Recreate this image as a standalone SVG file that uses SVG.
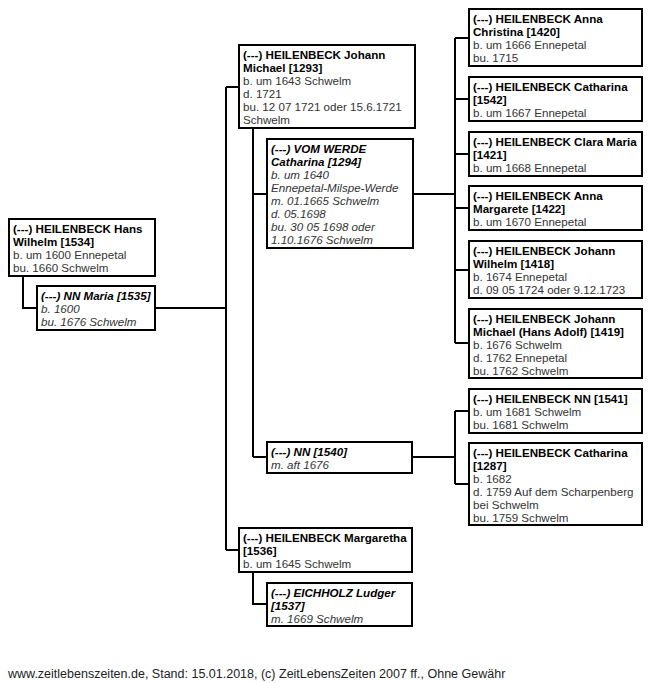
<svg xmlns="http://www.w3.org/2000/svg" width="650" height="683" viewBox="0 0 650 683">
<style>
rect.box{fill:#fff;stroke:#000;stroke-width:2}
text{font-family:"Liberation Sans",Arial,sans-serif;font-size:11.6px;fill:#333}
.b{font-weight:bold;fill:#000}
.i{font-style:italic}
#connectors path{fill:none;stroke:#000;stroke-width:2}
</style>
<rect width="650" height="683" fill="#fff"/>
<g id="connectors">
<path d="M23 276V308H37"/>
<path d="M155 308H226"/>
<path d="M226 87V550"/>
<path d="M226 87H239M226 550H239"/>
<path d="M253 129V457M253 194H267M253 457H267"/>
<path d="M413 194H455"/>
<path d="M455 38V343"/>
<path d="M455 38H469M455 99H469M455 154H469M455 208H469M455 270H469M455 343H469"/>
<path d="M412 457H455M455 411V484M455 411H469M455 484H469"/>
<path d="M253 572V604H267"/>
</g>
<g id="p1534">
<rect class="box" x="9" y="219" width="146" height="57"/>
<text x="13" y="233"><tspan class="b">(---) HEILENBECK Hans</tspan><tspan class="b" x="13" dy="13">Wilhelm [1534]</tspan><tspan x="13" dy="13">b. um 1600 Ennepetal</tspan><tspan x="13" dy="13">bu. 1660 Schwelm</tspan></text>
</g>
<g id="p1535">
<rect class="box" x="37" y="286" width="118" height="44"/>
<text x="41" y="300" class="i"><tspan class="b">(---) NN Maria [1535]</tspan><tspan x="41" dy="13">b. 1600</tspan><tspan x="41" dy="13">bu. 1676 Schwelm</tspan></text>
</g>
<g id="p1293">
<rect class="box" x="239" y="45" width="176" height="83"/>
<text x="243" y="59"><tspan class="b">(---) HEILENBECK Johann</tspan><tspan class="b" x="243" dy="13">Michael [1293]</tspan><tspan x="243" dy="13">b. um 1643 Schwelm</tspan><tspan x="243" dy="13">d. 1721</tspan><tspan x="243" dy="13">bu. 12 07 1721 oder 15.6.1721</tspan><tspan x="243" dy="13">Schwelm</tspan></text>
</g>
<g id="p1294">
<rect class="box" x="267" y="139" width="146" height="109"/>
<text x="271" y="153" class="i"><tspan class="b">(---) VOM WERDE</tspan><tspan class="b" x="271" dy="13">Catharina [1294]</tspan><tspan x="271" dy="13">b. um 1640</tspan><tspan x="271" dy="13">Ennepetal-Milspe-Werde</tspan><tspan x="271" dy="13">m. 01.1665 Schwelm</tspan><tspan x="271" dy="13">d. 05.1698</tspan><tspan x="271" dy="13">bu. 30 05 1698 oder</tspan><tspan x="271" dy="13">1.10.1676 Schwelm</tspan></text>
</g>
<g id="p1540">
<rect class="box" x="267" y="442" width="145" height="31"/>
<text x="271" y="456" class="i"><tspan class="b">(---) NN [1540]</tspan><tspan x="271" dy="13">m. aft 1676</tspan></text>
</g>
<g id="p1536">
<rect class="box" x="239" y="528" width="173" height="44"/>
<text x="243" y="542"><tspan class="b">(---) HEILENBECK Margaretha</tspan><tspan class="b" x="243" dy="13">[1536]</tspan><tspan x="243" dy="13">b. um 1645 Schwelm</tspan></text>
</g>
<g id="p1537">
<rect class="box" x="267" y="583" width="145" height="43"/>
<text x="271" y="597" class="i"><tspan class="b">(---) EICHHOLZ Ludger</tspan><tspan class="b" x="271" dy="13">[1537]</tspan><tspan x="271" dy="13">m. 1669 Schwelm</tspan></text>
</g>
<g id="p1420">
<rect class="box" x="469" y="9" width="173" height="57"/>
<text x="473" y="23"><tspan class="b">(---) HEILENBECK Anna</tspan><tspan class="b" x="473" dy="13">Christina [1420]</tspan><tspan x="473" dy="13">b. um 1666 Ennepetal</tspan><tspan x="473" dy="13">bu. 1715</tspan></text>
</g>
<g id="p1542">
<rect class="box" x="469" y="77" width="173" height="44"/>
<text x="473" y="91"><tspan class="b">(---) HEILENBECK Catharina</tspan><tspan class="b" x="473" dy="13">[1542]</tspan><tspan x="473" dy="13">b. um 1667 Ennepetal</tspan></text>
</g>
<g id="p1421">
<rect class="box" x="469" y="132" width="173" height="44"/>
<text x="473" y="146"><tspan class="b">(---) HEILENBECK Clara Maria</tspan><tspan class="b" x="473" dy="13">[1421]</tspan><tspan x="473" dy="13">b. um 1668 Ennepetal</tspan></text>
</g>
<g id="p1422">
<rect class="box" x="469" y="186" width="173" height="44"/>
<text x="473" y="200"><tspan class="b">(---) HEILENBECK Anna</tspan><tspan class="b" x="473" dy="13">Margarete [1422]</tspan><tspan x="473" dy="13">b. um 1670 Ennepetal</tspan></text>
</g>
<g id="p1418">
<rect class="box" x="469" y="241" width="173" height="57"/>
<text x="473" y="255"><tspan class="b">(---) HEILENBECK Johann</tspan><tspan class="b" x="473" dy="13">Wilhelm [1418]</tspan><tspan x="473" dy="13">b. 1674 Ennepetal</tspan><tspan x="473" dy="13">d. 09 05 1724 oder 9.12.1723</tspan></text>
</g>
<g id="p1419">
<rect class="box" x="469" y="309" width="173" height="69"/>
<text x="473" y="323"><tspan class="b">(---) HEILENBECK Johann</tspan><tspan class="b" x="473" dy="13">Michael (Hans Adolf) [1419]</tspan><tspan x="473" dy="13">b. 1676 Schwelm</tspan><tspan x="473" dy="13">d. 1762 Ennepetal</tspan><tspan x="473" dy="13">bu. 1762 Schwelm</tspan></text>
</g>
<g id="p1541">
<rect class="box" x="469" y="389" width="173" height="44"/>
<text x="473" y="403"><tspan class="b">(---) HEILENBECK NN [1541]</tspan><tspan x="473" dy="13">b. um 1681 Schwelm</tspan><tspan x="473" dy="13">bu. 1681 Schwelm</tspan></text>
</g>
<g id="p1287">
<rect class="box" x="469" y="443" width="173" height="82"/>
<text x="473" y="457"><tspan class="b">(---) HEILENBECK Catharina</tspan><tspan class="b" x="473" dy="13">[1287]</tspan><tspan x="473" dy="13">b. 1682</tspan><tspan x="473" dy="13">d. 1759 Auf dem Scharpenberg</tspan><tspan x="473" dy="13">bei Schwelm</tspan><tspan x="473" dy="13">bu. 1759 Schwelm</tspan></text>
</g>
<text x="8" y="678" style="font-size:12.5px;fill:#222">www.zeitlebenszeiten.de, Stand: 15.01.2018, (c) ZeitLebensZeiten 2007 ff., Ohne Gewähr</text>
</svg>
